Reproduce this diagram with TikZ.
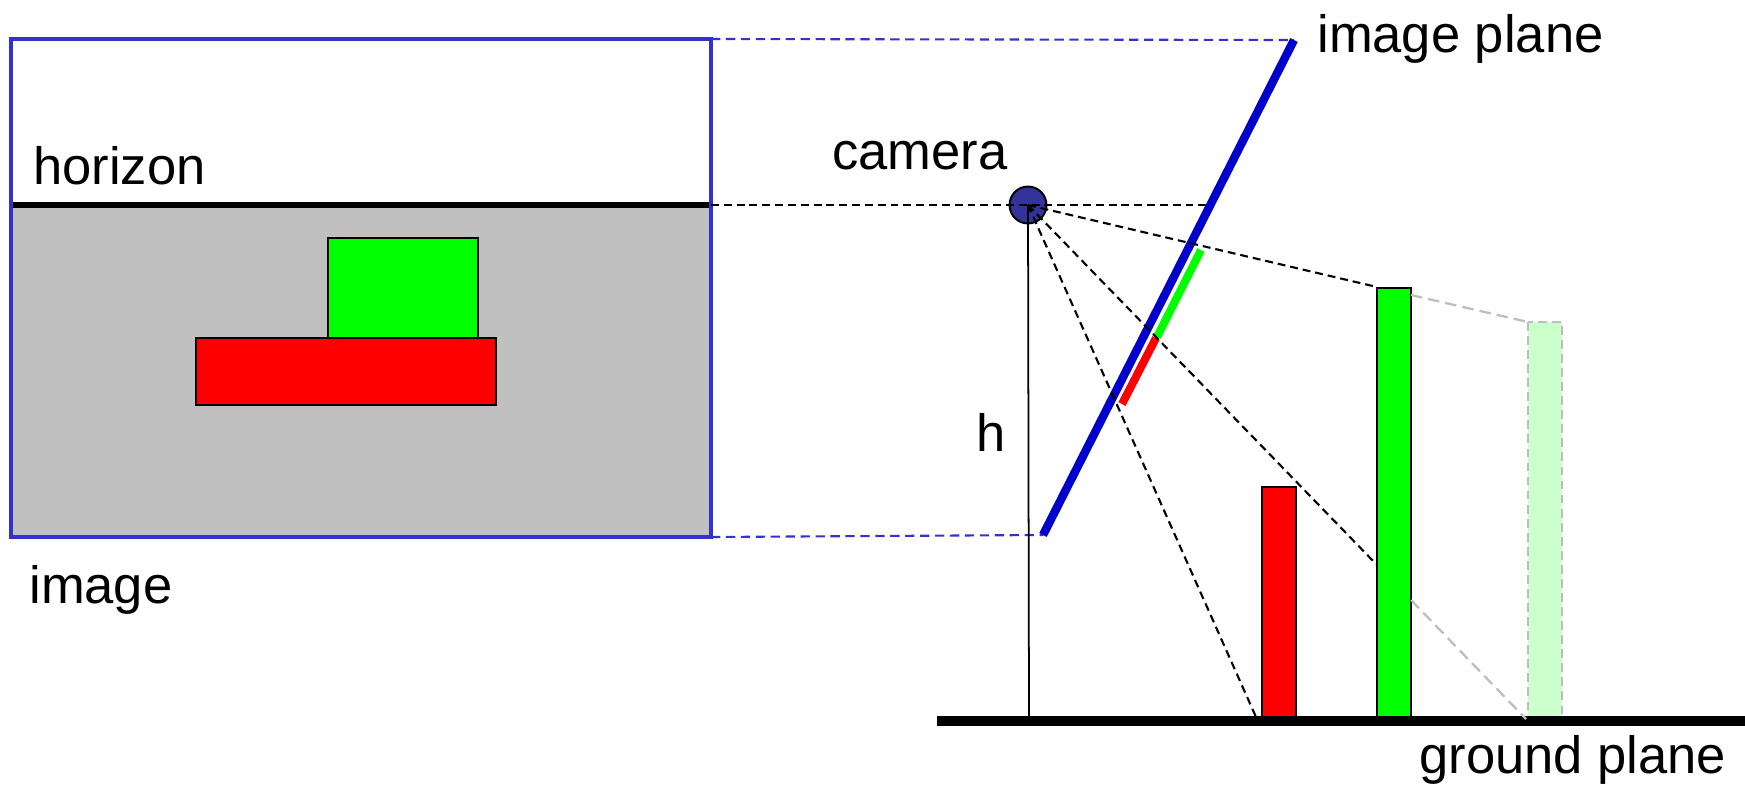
\documentclass[tikz,border=0pt]{standalone}
\usepackage{fontspec}
\setmainfont{Liberation Sans}
\definecolor{boxblue}{RGB}{51,51,204}
\definecolor{planeblue}{RGB}{0,0,204}
\definecolor{camblue}{RGB}{51,51,153}
\definecolor{skygray}{RGB}{192,192,192}
\definecolor{pure green}{RGB}{0,255,0}
\definecolor{pure red}{RGB}{255,0,0}
\definecolor{fadegreen}{RGB}{205,255,205}
\definecolor{fadegray}{RGB}{190,190,190}
\begin{document}
\begin{tikzpicture}[x=0.02cm,y=-0.02cm,
  lbl/.style={inner sep=0pt,anchor=base west,font=\fontsize{29.9}{36}\selectfont},
  ray/.style={dash pattern=on 4.5pt off 2.8pt,line width=1.2pt,black},
  fadeRay/.style={dash pattern=on 6.5pt off 3.5pt,line width=1.3pt,fadegray},
  bluelink/.style={dash pattern=on 5.3pt off 3.2pt,line width=1.2pt,boxblue},
  obj/.style={draw=black,line width=1.1pt},
  bar/.style={draw=black,line width=1.3pt},
  segment/.style={line width=4.6pt}]
\useasboundingbox (0,0) rectangle (1745,785);

% ---- image (left) ----
\coordinate (boxTL) at (11,39);
\coordinate (boxTR) at (711,39);
\coordinate (boxBR) at (711,537);
\coordinate (hzL) at (11,205);
\coordinate (hzR) at (711,205);
\fill[skygray] (hzL) rectangle (boxBR);
\draw[obj,fill=pure green] (328,238) rectangle (478,338);
\draw[obj,fill=pure red] (196,338) rectangle (496,405);
\draw[line width=3.8pt] (hzL) -- (hzR);
\draw[boxblue,line width=2.6pt] (boxTL) rectangle (boxBR);
\node[lbl] (horizon) at (33,184) {horizon};
\node[lbl] (image) at (29,603) {image};

% ---- scene (right) ----
\coordinate (ipT) at (1294,40);
\coordinate (ipB) at (1043,535);
\coordinate (ipH) at (1211,205);
\coordinate (gL) at (937,721);
\coordinate (gR) at (1745,721);
\coordinate (foot) at (1029,719);

% bars
\draw[bar,fill=pure red] (1262,487) rectangle (1296,719);
\draw[bar,fill=pure green] (1377,288) rectangle (1411,719);
\draw[fill=fadegreen,draw=fadegray,line width=1.4pt,dash pattern=on 5pt off 3pt] (1528,322) rectangle (1562,719);

% projection links
\draw[bluelink] (boxTR) -- (ipT);
\draw[bluelink] (boxBR) -- (ipB);

% image plane with projected segments
\draw[planeblue,line width=4.8pt] (ipT) -- (ipB);
\draw[segment,pure green] (1201,250) -- (1157,337);
\draw[segment,pure red] (1156,338) -- (1122,404);

% ground plane
\draw[line width=5.2pt] (gL) -- (gR);

% camera
\node[circle,draw=black,fill=camblue,line width=1.1pt,minimum size=0.74cm,inner sep=0pt] (cam) at (1028,205) {};
\draw[line width=1pt] (cam.center) -- (foot);
\draw[ray] (hzR) -- (ipH);
\draw[ray] (cam.center) -- (1377,287);
\draw[fadeRay] (1411,295) -- (1528,322);
\draw[ray] (cam.center) -- (1377,565);
\draw[fadeRay] (1411,600) -- (1526,719);
\draw[ray] (cam.center) -- (1256,717);

% labels
\node[lbl] (camera) at (832,169) {camera};
\node[lbl] (h) at (976,451) {h};
\node[lbl] (imageplane) at (1317,52) {image plane};
\node[lbl] (groundplane) at (1419,773) {ground plane};
\end{tikzpicture}
\end{document}
